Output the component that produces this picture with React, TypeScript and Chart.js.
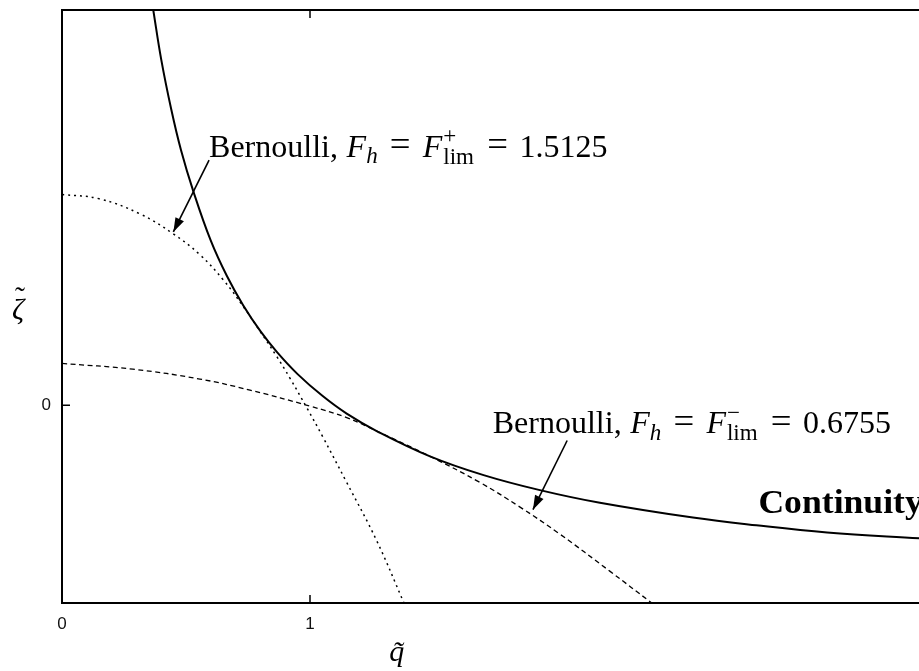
import React, { useEffect, useRef } from "react";
import { Chart, registerables } from "chart.js";

Chart.register(...registerables);

// ---- data ----
const continuityQ = [0.368, 0.4, 0.44, 0.48, 0.529, 0.6, 0.665, 0.731, 0.8, 0.867, 0.95, 1.05, 1.148, 1.269, 1.484, 1.7, 1.927, 2.169, 2.544, 2.8, 3.085, 3.456, 3.5];
const continuityZeta = [2.0, 1.75, 1.5, 1.29, 1.085, 0.833, 0.654, 0.505, 0.375, 0.269, 0.158, 0.048, -0.042, -0.13, -0.258, -0.353, -0.429, -0.493, -0.568, -0.607, -0.643, -0.673, -0.676];

const bernoulliPlusQ = [0, 0.15, 0.315, 0.448, 0.556, 0.65, 0.731, 0.8, 0.867, 0.919, 0.988, 1.05, 1.148, 1.269, 1.379];
const bernoulliPlusZeta = [1.067, 1.045, 0.968, 0.868, 0.762, 0.635, 0.5, 0.372, 0.245, 0.138, -0.014, -0.156, -0.39, -0.685, -1.0];

const bernoulliMinusQ = [0, 0.286, 0.556, 0.758, 1.0, 1.148, 1.269, 1.484, 1.685, 1.847, 2.008, 2.21, 2.378];
const bernoulliMinusZeta = [0.212, 0.183, 0.133, 0.077, -0.004, -0.062, -0.13, -0.258, -0.39, -0.515, -0.652, -0.84, -1.0];

const xMin = 0;
const xMax = 3.5;
const yMin = -1;
const yMax = 2;
const xTickValues = [0, 1];
const xTickLabels = ["0", "1"];
const yTickValues = [0];
const yTickLabels = ["0"];

const xTitle = "q\u0303";
const yTitleBase = "\u03B6";
const yTitleAccent = "\u02DC";
const continuityLabel = "Continuity";
const bernoulliWord = "Bernoulli,";
const fPlusValue = "1.5125";
const fMinusValue = "0.6755";

// annotation anchors (data coordinates)
const plusLabelAt = [0.593, 1.256];
const plusArrowFrom = [0.593, 1.241];
const plusArrowTo = [0.449, 0.877];
const minusLabelAt = [1.737, -0.142];
const minusArrowFrom = [2.037, -0.178];
const minusArrowTo = [1.899, -0.528];
const continuityLabelAt = [2.808, -0.543];

const SERIF = "'Liberation Serif', 'Times New Roman', serif";

type Seg = { text?: string; style?: string; scale?: number; dy?: number; sup?: string; sub?: string; gap?: number };

function bernoulliSegs(sign: string, value: string): Seg[] {
  return [
    { text: bernoulliWord, style: "" },
    { gap: 0.27 },
    { text: "F", style: "italic" },
    { text: "h", style: "italic", scale: 0.72, dy: 0.2 },
    { gap: 0.38 },
    { text: "=", style: "", scale: 1.15 },
    { gap: 0.38 },
    { text: "F", style: "italic" },
    { sup: sign, sub: "lim" },
    { gap: 0.38 },
    { text: "=", style: "", scale: 1.15 },
    { gap: 0.36 },
    { text: value, style: "" },
  ];
}

function drawRich(ctx: CanvasRenderingContext2D, x: number, y: number, segs: Seg[], size: number) {
  let cx = x;
  ctx.textBaseline = "alphabetic";
  ctx.textAlign = "left";
  for (const s of segs) {
    if (s.gap !== undefined) {
      cx += s.gap * size;
    } else if (s.sup !== undefined) {
      ctx.font = `${size * 0.72}px ${SERIF}`;
      const w1 = ctx.measureText(s.sup).width;
      ctx.fillText(s.sup, cx + 1, y - size * 0.43);
      const w2 = ctx.measureText(s.sub || "").width;
      ctx.fillText(s.sub || "", cx + 1, y + size * 0.22);
      cx += Math.max(w1, w2) + 2;
    } else {
      const fs = size * (s.scale || 1);
      ctx.font = `${s.style || ""} ${fs}px ${SERIF}`;
      const off = s.scale && s.scale > 1 ? -(fs - size) * 0.12 : 0;
      ctx.fillText(s.text || "", cx, y + (s.dy || 0) * size + off);
      cx += ctx.measureText(s.text || "").width;
    }
  }
}

function drawArrow(ctx: CanvasRenderingContext2D, x1: number, y1: number, x2: number, y2: number) {
  ctx.beginPath();
  ctx.moveTo(x1, y1);
  ctx.lineTo(x2, y2);
  ctx.lineWidth = 1.6;
  ctx.stroke();
  const ang = Math.atan2(y2 - y1, x2 - x1);
  const L = 15;
  const W = 0.32;
  ctx.beginPath();
  ctx.moveTo(x2, y2);
  ctx.lineTo(x2 - L * Math.cos(ang - W), y2 - L * Math.sin(ang - W));
  ctx.lineTo(x2 - L * Math.cos(ang + W), y2 - L * Math.sin(ang + W));
  ctx.closePath();
  ctx.fill();
}

const decorPlugin = {
  id: "decor",
  afterDatasetsDraw(chart: any) {
    const { ctx, chartArea: a, scales } = chart;
    const sx = scales.x;
    const sy = scales.y;
    const px = (v: number) => sx.getPixelForValue(v);
    const py = (v: number) => sy.getPixelForValue(v);
    ctx.save();
    ctx.strokeStyle = "#000";
    ctx.fillStyle = "#000";
    // frame
    ctx.lineWidth = 2;
    ctx.strokeRect(a.left, a.top, a.right - a.left, a.bottom - a.top);
    // inward ticks
    ctx.lineWidth = 1.5;
    ctx.beginPath();
    xTickValues.forEach((v) => {
      const x = px(v);
      ctx.moveTo(x, a.bottom);
      ctx.lineTo(x, a.bottom - 8);
      ctx.moveTo(x, a.top);
      ctx.lineTo(x, a.top + 8);
    });
    yTickValues.forEach((v) => {
      const y = py(v);
      ctx.moveTo(a.left, y);
      ctx.lineTo(a.left + 8, y);
      ctx.moveTo(a.right, y);
      ctx.lineTo(a.right - 8, y);
    });
    ctx.stroke();

    // arrows
    drawArrow(ctx, px(plusArrowFrom[0]), py(plusArrowFrom[1]), px(plusArrowTo[0]), py(plusArrowTo[1]));
    drawArrow(ctx, px(minusArrowFrom[0]), py(minusArrowFrom[1]), px(minusArrowTo[0]), py(minusArrowTo[1]));

    // labels
    drawRich(ctx, px(plusLabelAt[0]), py(plusLabelAt[1]), bernoulliSegs("+", fPlusValue), 32);
    drawRich(ctx, px(minusLabelAt[0]), py(minusLabelAt[1]), bernoulliSegs("\u2212", fMinusValue), 32);

    ctx.font = `bold 33px ${SERIF}`;
    ctx.textAlign = "left";
    ctx.textBaseline = "alphabetic";
    ctx.save();
    ctx.translate(px(continuityLabelAt[0]), py(continuityLabelAt[1]));
    ctx.scale(1.08, 1);
    ctx.fillText(continuityLabel, 0, 0);
    ctx.restore();

    // axis titles
    ctx.font = `italic 30px ${SERIF}`;
    ctx.textAlign = "center";
    const yc = (a.top + a.bottom) / 2;
    ctx.fillText(yTitleBase, a.left - 44, yc + 12);
    ctx.font = `30px ${SERIF}`;
    ctx.fillText(yTitleAccent, a.left - 42, yc + 0);
    ctx.font = `italic 30px ${SERIF}`;
    ctx.fillText(xTitle, px(1.35), a.bottom + 58);
    ctx.restore();
  },
};

export default function App() {
  const ref = useRef<HTMLCanvasElement | null>(null);
  useEffect(() => {
    if (!ref.current) return;
    const mk = (qs: number[], zs: number[]) => qs.map((q, i) => ({ x: q, y: zs[i] }));
    const lineOpts = { borderColor: "#000", pointRadius: 0, tension: 0.4, fill: false };
    const chart = new Chart(ref.current, {
      type: "line",
      data: {
        datasets: [
          { label: "Continuity", data: mk(continuityQ, continuityZeta), borderWidth: 2, ...lineOpts },
          { label: "Bernoulli F+", data: mk(bernoulliPlusQ, bernoulliPlusZeta), borderWidth: 1.5, borderDash: [2, 4], ...lineOpts },
          { label: "Bernoulli F-", data: mk(bernoulliMinusQ, bernoulliMinusZeta), borderWidth: 1.3, borderDash: [5, 3.5], ...lineOpts },
        ],
      },
      options: {
        animation: false,
        responsive: false,
        devicePixelRatio: 1,
        layout: { padding: { top: 10, right: 10, left: 0, bottom: 0 } },
        plugins: { legend: { display: false }, tooltip: { enabled: false }, title: { display: false } },
        scales: {
          x: {
            type: "linear",
            min: xMin,
            max: xMax,
            grid: { display: false, drawTicks: false },
            border: { display: false },
            afterFit: (s: any) => {
              s.height = 68;
              s.paddingLeft = 0;
              s.paddingRight = 0;
            },
            afterBuildTicks: (s: any) => {
              s.ticks = xTickValues.map((v) => ({ value: v }));
            },
            ticks: {
              autoSkip: false,
              maxRotation: 0,
              padding: 11,
              color: "#111",
              font: { family: "'Liberation Sans', Arial, sans-serif", size: 17 },
              callback: (v: any) => {
                const i = xTickValues.indexOf(Number(v));
                return i >= 0 ? xTickLabels[i] : "";
              },
            },
          },
          y: {
            type: "linear",
            min: yMin,
            max: yMax,
            grid: { display: false, drawTicks: false },
            border: { display: false },
            afterFit: (s: any) => {
              s.width = 62;
              s.paddingTop = 0;
              s.paddingBottom = 0;
            },
            afterBuildTicks: (s: any) => {
              s.ticks = yTickValues.map((v) => ({ value: v }));
            },
            ticks: {
              autoSkip: false,
              padding: 11,
              color: "#111",
              font: { family: "'Liberation Sans', Arial, sans-serif", size: 17 },
              callback: (v: any) => {
                const i = yTickValues.indexOf(Number(v));
                return i >= 0 ? yTickLabels[i] : "";
              },
            },
          },
        },
      },
      plugins: [decorPlugin],
    } as any);
    return () => chart.destroy();
  }, []);

  return (
    <div style={{ position: "absolute", left: 0, top: 0, width: 919, height: 671, overflow: "hidden", background: "#fff" }}>
      <canvas ref={ref} width={940} height={671} style={{ width: 940, height: 671, display: "block" }} />
    </div>
  );
}
